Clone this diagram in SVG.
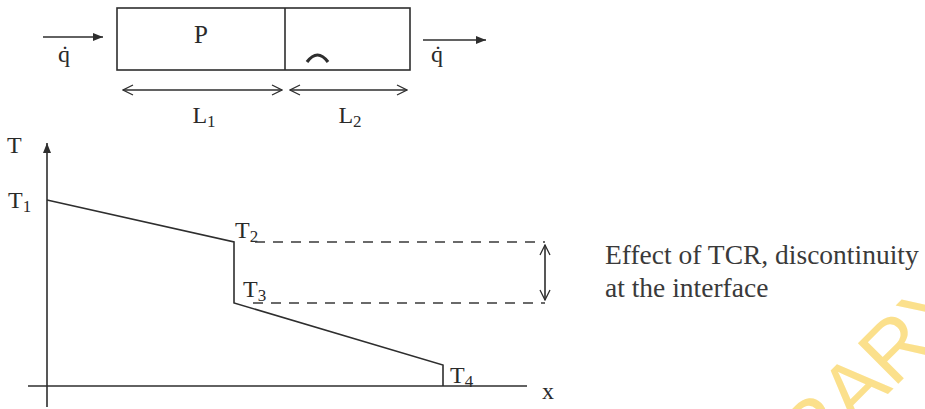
<svg xmlns="http://www.w3.org/2000/svg" width="925" height="409" viewBox="0 0 925 409">
<defs>
<style>
.ln{stroke:#2e2e2e;stroke-width:1.6;fill:none}
.dash{stroke:#3a3a3a;stroke-width:1.6;fill:none;stroke-dasharray:10 8}
.lbl{font-family:"Liberation Serif","Times New Roman",serif;font-size:24px;fill:#2a2a2a}
.sub{font-size:17px}
.note{font-family:"Liberation Serif","Times New Roman",serif;font-size:27.5px;fill:#3a3a3a}
.wm{font-family:"Liberation Sans",Arial,sans-serif;font-size:83px;fill:#fbe08c}
</style>
<marker id="solid" viewBox="0 0 10 10" refX="10" refY="5" markerWidth="10" markerHeight="10" markerUnits="userSpaceOnUse" orient="auto">
<path d="M0,1 L10,5 L0,9 Z" fill="#2e2e2e"/>
</marker>
<marker id="open" viewBox="0 0 12 12" refX="11" refY="6" markerWidth="12" markerHeight="12" markerUnits="userSpaceOnUse" orient="auto-start-reverse">
<path d="M1,1 L11,6 L1,11" fill="none" stroke="#2e2e2e" stroke-width="1.3"/>
</marker>
</defs>
<rect width="925" height="409" fill="#ffffff"/>

<g id="watermark">
<text class="wm" transform="translate(812,470) rotate(-45)">RARY</text>
</g>

<g id="wall">
<rect x="117" y="8" width="293" height="62" class="ln"/>
<line x1="285" y1="8" x2="285" y2="70" class="ln"/>
<text class="lbl" x="201" y="43" text-anchor="middle" style="font-size:25px">P</text>
<path d="M307,62 Q317.5,48 328,62" fill="none" stroke="#2e2e2e" stroke-width="3.2"/>
</g>

<g id="flux-in">
<text class="lbl" x="64" y="62" text-anchor="middle">q̇</text>
</g>
<g id="flux-out">
<text class="lbl" x="437" y="62" text-anchor="middle">q̇</text>
</g>

<g id="dim-L1">
<text class="lbl" x="204" y="123" text-anchor="middle">L<tspan class="sub" dy="4">1</tspan></text>
</g>
<g id="dim-L2">
<text class="lbl" x="350" y="123" text-anchor="middle">L<tspan class="sub" dy="4">2</tspan></text>
</g>

<g id="axes">
<text class="lbl" x="7" y="153">T</text>
<text class="lbl" x="542" y="399">x</text>
</g>

<g id="profile-labels">
<text class="lbl" x="8" y="208">T<tspan class="sub" dy="4">1</tspan></text>
<text class="lbl" x="235" y="238">T<tspan class="sub" dy="4">2</tspan></text>
<text class="lbl" x="243" y="297">T<tspan class="sub" dy="4">3</tspan></text>
<text class="lbl" x="450" y="383">T<tspan class="sub" dy="4">4</tspan></text>
</g>

<g id="note">
<text class="note" x="605" y="264">Effect of TCR, discontinuity</text>
<text class="note" x="605" y="297">at the interface</text>
</g>

<g id="connectors">
<line x1="43" y1="37" x2="103" y2="37" class="ln" marker-end="url(#solid)"/>
<line x1="423" y1="40" x2="486" y2="40" class="ln" marker-end="url(#solid)"/>
<line x1="123" y1="90" x2="282" y2="90" class="ln" marker-start="url(#open)" marker-end="url(#open)"/>
<line x1="290" y1="90" x2="407" y2="90" class="ln" marker-start="url(#open)" marker-end="url(#open)"/>
<line x1="47" y1="407" x2="47" y2="143" class="ln" marker-end="url(#solid)"/>
<line x1="28" y1="386" x2="527" y2="386" class="ln"/>
<polyline points="47,200 234,242 234,303 443,365 443,386" class="ln"/>
<line x1="255" y1="242" x2="545" y2="242" class="dash"/>
<line x1="253" y1="303" x2="545" y2="303" class="dash"/>
<line x1="545" y1="245" x2="545" y2="300" class="ln" marker-start="url(#open)" marker-end="url(#open)"/>
</g>
</svg>
